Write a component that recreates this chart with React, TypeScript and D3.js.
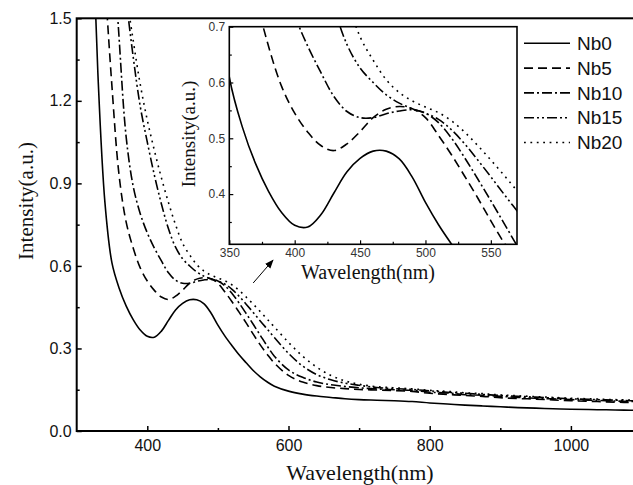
import React, { useEffect, useRef } from 'react'
import * as d3 from 'd3'

// wavelength grid (nm) shared by all spectra
const wavelengths = [
  320, 330, 340, 350, 360, 370, 380, 390, 400, 410, 420, 430, 440, 450, 460, 470, 480, 490, 500, 510,
  520, 530, 540, 550, 560, 570, 580, 600, 620, 640, 660, 680, 700, 725, 750, 775, 800, 825, 850, 875,
  900, 925, 950, 975, 1000, 1025, 1050, 1075, 1100,
]

const nb0 = [
  2.05, 1.3, 0.83, 0.61, 0.52, 0.455, 0.405, 0.367, 0.344, 0.341, 0.363, 0.402, 0.44, 0.464, 0.477, 0.477, 0.463, 0.43, 0.385, 0.345,
  0.31, 0.277, 0.248, 0.22, 0.197, 0.178, 0.163, 0.145, 0.134, 0.127, 0.122, 0.117, 0.114, 0.112, 0.11, 0.107, 0.102, 0.098, 0.094, 0.091,
  0.088, 0.085, 0.083, 0.081, 0.079, 0.078, 0.077, 0.076, 0.075,
]
const nb5 = [
  3.0, 2.2, 1.65, 1.25, 0.93, 0.76, 0.665, 0.593, 0.545, 0.511, 0.487, 0.478, 0.49, 0.512, 0.537, 0.552, 0.557, 0.553, 0.537, 0.505,
  0.47, 0.432, 0.393, 0.352, 0.313, 0.278, 0.247, 0.202, 0.178, 0.165, 0.158, 0.154, 0.151, 0.149, 0.147, 0.144, 0.137, 0.133, 0.129, 0.126,
  0.121, 0.118, 0.116, 0.113, 0.11, 0.108, 0.106, 0.104, 0.102,
]
const nb10 = [
  5.0, 3.0, 2.3, 1.85, 1.43, 1.07, 0.89, 0.79, 0.72, 0.665, 0.618, 0.575, 0.548, 0.537, 0.537, 0.544, 0.549, 0.551, 0.545, 0.528,
  0.5, 0.465, 0.427, 0.388, 0.348, 0.308, 0.272, 0.222, 0.195, 0.178, 0.168, 0.162, 0.157, 0.153, 0.15, 0.148, 0.141, 0.138, 0.132, 0.13,
  0.126, 0.122, 0.119, 0.117, 0.114, 0.112, 0.11, 0.108, 0.106,
]
const nb15 = [
  6.0, 4.0, 3.0, 2.3, 1.8, 1.57, 1.36, 1.18, 1.05, 0.93, 0.825, 0.735, 0.668, 0.626, 0.6, 0.578, 0.563, 0.553, 0.545, 0.534,
  0.515, 0.49, 0.461, 0.431, 0.4, 0.37, 0.34, 0.282, 0.236, 0.205, 0.186, 0.174, 0.166, 0.158, 0.154, 0.151, 0.146, 0.141, 0.137, 0.133,
  0.129, 0.126, 0.123, 0.12, 0.117, 0.115, 0.113, 0.111, 0.109,
]
const nb20 = [
  7.0, 4.5, 3.2, 2.5, 1.9, 1.6, 1.42, 1.26, 1.13, 1.02, 0.92, 0.83, 0.75, 0.682, 0.64, 0.605, 0.582, 0.567, 0.556, 0.546,
  0.531, 0.511, 0.487, 0.461, 0.434, 0.406, 0.378, 0.322, 0.272, 0.232, 0.202, 0.182, 0.17, 0.161, 0.157, 0.153, 0.148, 0.144, 0.139, 0.136,
  0.131, 0.128, 0.125, 0.122, 0.119, 0.117, 0.115, 0.113, 0.111,
]

const seriesNames = ['Nb0', 'Nb5', 'Nb10', 'Nb15', 'Nb20']
const seriesValues = [nb0, nb5, nb10, nb15, nb20]
const dashes = ['none', '9,5', '10,3,2,3', '10,3,2,3,2,3', '1.8,4.6']

const mainXTicks = [400, 600, 800, 1000]
const mainXMinor = [500, 700, 900]
const mainYTicks = [0, 0.3, 0.6, 0.9, 1.2, 1.5]
const mainYMinor = [0.15, 0.45, 0.75, 1.05, 1.35]
const insetXTicks = [350, 400, 450, 500, 550]
const insetXMinor = [375, 425, 475, 525]
const insetYTicks = [0.4, 0.5, 0.6, 0.7]
const insetYMinor = [0.35, 0.45, 0.55, 0.65]

const W = 633
const H = 485
const main = { left: 76.7, right: 641.5, top: 18.3, bottom: 431 }
const inset = { left: 229.3, right: 517, top: 26.7, bottom: 244.3 }

const sans = '"Liberation Sans", Arial, sans-serif'
const serif = '"Liberation Serif", "Times New Roman", serif'

function styleAxis(g, size, color, width) {
  g.select('.domain').remove()
  g.attr('font-size', size).attr('font-family', sans).attr('color', '#000')
  g.selectAll('line').attr('stroke-width', width)
  g.selectAll('text').attr('fill', color)
}

export default function App() {
  const mainAxesRef = useRef<SVGGElement>(null)
  const insetAxesRef = useRef<SVGGElement>(null)

  const x = d3.scaleLinear().domain([300, 1100]).range([main.left, main.right])
  const y = d3.scaleLinear().domain([0, 1.5]).range([main.bottom, main.top])
  const ix = d3.scaleLinear().domain([350, 570]).range([inset.left, inset.right])
  const iy = d3.scaleLinear().domain([0.31, 0.7]).range([inset.bottom, inset.top])

  const mainLine = d3
    .line<number>()
    .x((d, i) => x(wavelengths[i]))
    .y((d) => y(d))
    .curve(d3.curveCatmullRom.alpha(0.5))
  const insetLine = d3
    .line<number>()
    .x((d, i) => ix(wavelengths[i]))
    .y((d) => iy(d))
    .curve(d3.curveCatmullRom.alpha(0.5))

  useEffect(() => {
    const g = d3.select(mainAxesRef.current)
    g.selectAll('*').remove()

    const xMajor = g.append('g').attr('transform', `translate(0,${main.bottom})`)
    xMajor.call(d3.axisBottom(x).tickValues(mainXTicks).tickSize(-5).tickPadding(9).tickFormat(d3.format('d')))
    styleAxis(xMajor, 16, '#111', 1.5)
    const xMinor = g.append('g').attr('transform', `translate(0,${main.bottom})`)
    xMinor.call(d3.axisBottom(x).tickValues(mainXMinor).tickSize(-3).tickFormat(() => ''))
    styleAxis(xMinor, 16, '#111', 1.5)

    const yMajor = g.append('g').attr('transform', `translate(${main.left},0)`)
    yMajor.call(d3.axisLeft(y).tickValues(mainYTicks).tickSize(-5).tickPadding(5).tickFormat(d3.format('.1f')))
    styleAxis(yMajor, 16, '#111', 1.5)
    const yMinor = g.append('g').attr('transform', `translate(${main.left},0)`)
    yMinor.call(d3.axisLeft(y).tickValues(mainYMinor).tickSize(-3).tickFormat(() => ''))
    styleAxis(yMinor, 16, '#111', 1.5)

    const ig = d3.select(insetAxesRef.current)
    ig.selectAll('*').remove()

    const ixMajor = ig.append('g').attr('transform', `translate(0,${inset.bottom})`)
    ixMajor.call(d3.axisBottom(ix).tickValues(insetXTicks).tickSize(-4).tickPadding(4).tickFormat(d3.format('d')))
    styleAxis(ixMajor, 12, '#333', 1.2)
    const ixMinor = ig.append('g').attr('transform', `translate(0,${inset.bottom})`)
    ixMinor.call(d3.axisBottom(ix).tickValues(insetXMinor).tickSize(-2.5).tickFormat(() => ''))
    styleAxis(ixMinor, 12, '#333', 1.2)

    const iyMajor = ig.append('g').attr('transform', `translate(${inset.left},0)`)
    iyMajor.call(d3.axisLeft(iy).tickValues(insetYTicks).tickSize(-4).tickPadding(4).tickFormat(d3.format('.1f')))
    styleAxis(iyMajor, 12, '#333', 1.2)
    const iyMinor = ig.append('g').attr('transform', `translate(${inset.left},0)`)
    iyMinor.call(d3.axisLeft(iy).tickValues(insetYMinor).tickSize(-2.5).tickFormat(() => ''))
    styleAxis(iyMinor, 12, '#333', 1.2)
  }, [])

  const legendTop = 43.3
  const legendStep = 24.8

  return (
    <svg
      width={W}
      height={H}
      style={{ position: 'absolute', left: 0, top: 0, background: '#fff' }}
    >
      <defs>
        <clipPath id="mainClip">
          <rect x={main.left} y={main.top} width={main.right - main.left} height={main.bottom - main.top} />
        </clipPath>
        <clipPath id="insetClip">
          <rect x={inset.left} y={inset.top} width={inset.right - inset.left} height={inset.bottom - inset.top} />
        </clipPath>
        <marker
          id="arrowHead"
          viewBox="0 0 10 10"
          refX="9"
          refY="5"
          markerWidth="9"
          markerHeight="9"
          markerUnits="userSpaceOnUse"
          orient="auto"
        >
          <path d="M0,1 L10,5 L0,9 Z" fill="#000" />
        </marker>
      </defs>

      <g clipPath="url(#mainClip)" fill="none" stroke="#000" strokeWidth={1.6}>
        {seriesValues.map((vals, i) => (
          <path key={seriesNames[i]} d={mainLine(vals)} strokeDasharray={dashes[i]} />
        ))}
      </g>
      <rect
        x={main.left}
        y={main.top}
        width={main.right - main.left}
        height={main.bottom - main.top}
        fill="none"
        stroke="#000"
        strokeWidth={2}
      />
      <g ref={mainAxesRef} />

      <rect
        x={inset.left}
        y={inset.top}
        width={inset.right - inset.left}
        height={inset.bottom - inset.top}
        fill="#fff"
      />
      <g clipPath="url(#insetClip)" fill="none" stroke="#000" strokeWidth={1.6}>
        {seriesValues.map((vals, i) => (
          <path key={seriesNames[i]} d={insetLine(vals)} strokeDasharray={dashes[i]} />
        ))}
      </g>
      <rect
        x={inset.left}
        y={inset.top}
        width={inset.right - inset.left}
        height={inset.bottom - inset.top}
        fill="none"
        stroke="#000"
        strokeWidth={1.6}
      />
      <g ref={insetAxesRef} />

      {/* legend */}
      {seriesNames.map((name, i) => (
        <g key={name} transform={`translate(0,${legendTop + i * legendStep})`}>
          <line x1={524} x2={570} y1={0} y2={0} stroke="#000" strokeWidth={1.6} strokeDasharray={dashes[i]} />
          <text x={577} y={6.7} fontSize={19} fontFamily={sans} fill="#111">
            {name}
          </text>
        </g>
      ))}

      {/* arrow pointing to the inset */}
      <line
        x1={x(550)}
        y1={y(0.538)}
        x2={x(578)}
        y2={y(0.621)}
        stroke="#000"
        strokeWidth={1}
        markerEnd="url(#arrowHead)"
      />

      {/* axis titles */}
      <text x={360} y={480} textAnchor="middle" fontSize={22} fontFamily={serif} fill="#111">
        Wavelength(nm)
      </text>
      <text
        transform={`translate(33,201) rotate(-90)`}
        textAnchor="middle"
        fontSize={21}
        fontFamily={serif}
        fill="#111"
      >
        Intensity(a.u.)
      </text>
      <text x={368} y={279} textAnchor="middle" fontSize={20} fontFamily={serif} fill="#111">
        Wavelength(nm)
      </text>
      <text
        transform={`translate(195,134) rotate(-90)`}
        textAnchor="middle"
        fontSize={19}
        fontFamily={serif}
        fill="#111"
      >
        Intensity(a.u.)
      </text>
    </svg>
  )
}
